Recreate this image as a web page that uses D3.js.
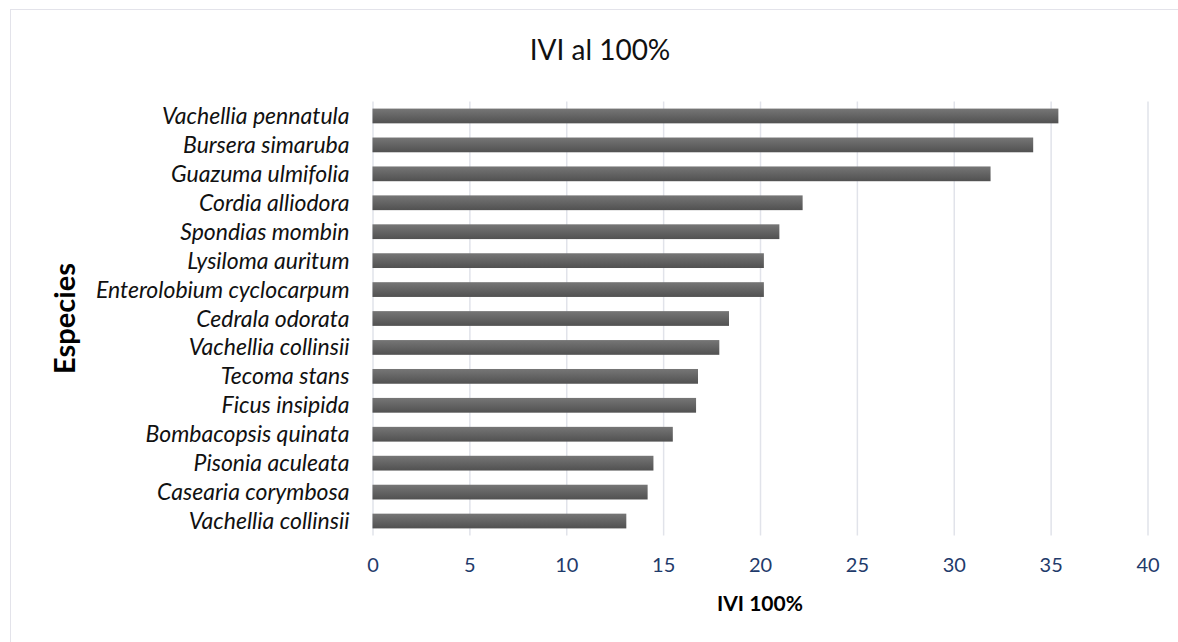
<html>
<head>
  <meta charset="utf-8">
  <title>IVI al 100%</title>
  <script src="https://d3js.org/d3.v7.min.js"></script>
  <style>
    body {
      margin: 0;
      padding: 0;
      background: #fff;
      font-family: Lato, "Open Sans", sans-serif;
    }
    .grid line {
      stroke: #e1e3ea;
      stroke-width: 1.5;
    }
    .grid path { display: none; }
    .x-axis path, .x-axis line { display: none; }
    .x-axis text {
      fill: #1f3b6b;
      font-size: 20px;
      font-family: Lato, "Open Sans", sans-serif;
    }
    .y-label {
      font-style: italic;
      font-size: 23px;
      fill: #111;
    }
  </style>
</head>
<body>
<div id="chart"></div>
<script>

// species, top to bottom
var species = [
  "Vachellia pennatula",
  "Bursera simaruba",
  "Guazuma ulmifolia",
  "Cordia alliodora",
  "Spondias mombin",
  "Lysiloma auritum",
  "Enterolobium cyclocarpum",
  "Cedrala odorata",
  "Vachellia collinsii",
  "Tecoma stans",
  "Ficus insipida",
  "Bombacopsis quinata",
  "Pisonia aculeata",
  "Casearia corymbosa",
  "Vachellia collinsii "
];

var ivi = [35.4, 34.1, 31.9, 22.2, 21.0, 20.2, 20.2, 18.4, 17.9, 16.8, 16.7, 15.5, 14.5, 14.2, 13.1];

var xTicks = [0, 5, 10, 15, 20, 25, 30, 35, 40];

var data = species.map(function(s, i) { return { name: s, value: ivi[i] }; });

var W = 1178, H = 642;
var margin = { top: 101.5, right: 30.5, bottom: 106.5, left: 372.5 };
var width = W - margin.left - margin.right;
var height = H - margin.top - margin.bottom;

var svg = d3.select("#chart").append("svg")
    .attr("width", W)
    .attr("height", H);

var defs = svg.append("defs");
var grad = defs.append("linearGradient")
    .attr("id", "barGrad")
    .attr("x1", 0).attr("y1", 0).attr("x2", 0).attr("y2", 1);
grad.append("stop").attr("offset", "0%").attr("stop-color", "#767676");
grad.append("stop").attr("offset", "100%").attr("stop-color", "#515151");

// outer chart frame
svg.append("rect")
    .attr("x", 10.5).attr("y", 9.5)
    .attr("width", W + 20).attr("height", H + 20)
    .attr("fill", "none")
    .attr("stroke", "#e3e3ea");

var g = svg.append("g")
    .attr("transform", "translate(" + margin.left + "," + margin.top + ")");

var x = d3.scaleLinear()
    .domain([0, 40])
    .range([0, width]);

var y = d3.scaleBand()
    .domain(species)
    .range([0, height])
    .paddingInner(0.49)
    .paddingOuter(0.245);

// vertical gridlines
g.append("g")
    .attr("class", "grid")
    .call(d3.axisBottom(x).tickValues(xTicks).tickSize(height).tickFormat(""));

g.selectAll(".bar")
    .data(data)
  .enter().append("rect")
    .attr("class", "bar")
    .attr("x", 0)
    .attr("y", function(d) { return y(d.name); })
    .attr("height", y.bandwidth())
    .attr("width", function(d) { return x(d.value); })
    .attr("fill", "url(#barGrad)");

// category labels
g.selectAll(".y-label")
    .data(data)
  .enter().append("text")
    .attr("class", "y-label")
    .attr("x", -23)
    .attr("y", function(d) { return y(d.name) + y.bandwidth() / 2; })
    .attr("dy", "0.35em")
    .attr("text-anchor", "end")
    .text(function(d) { return d.name.trim(); });

g.append("g")
    .attr("class", "x-axis")
    .attr("transform", "translate(0," + height + ")")
    .call(d3.axisBottom(x).tickValues(xTicks).tickSize(0).tickPadding(22));

// title
svg.append("text")
    .attr("x", 600)
    .attr("y", 60)
    .attr("text-anchor", "middle")
    .attr("font-size", "28px")
    .attr("fill", "#111")
    .text("IVI al 100%");

// axis titles
svg.append("text")
    .attr("x", margin.left + width / 2)
    .attr("y", 611)
    .attr("text-anchor", "middle")
    .attr("font-size", "21px")
    .attr("font-weight", "bold")
    .attr("fill", "#000")
    .text("IVI 100%");

svg.append("text")
    .attr("transform", "translate(75," + (margin.top + height / 2) + ") rotate(-90)")
    .attr("text-anchor", "middle")
    .attr("font-size", "29px")
    .attr("font-weight", "bold")
    .attr("fill", "#000")
    .text("Especies");

</script>
</body>
</html>
